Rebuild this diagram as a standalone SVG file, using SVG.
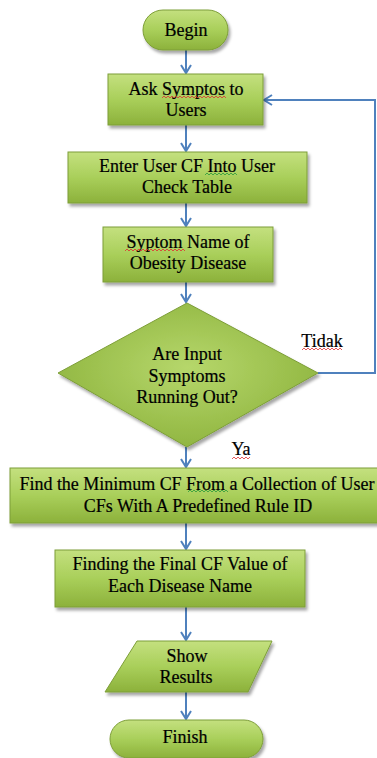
<svg xmlns="http://www.w3.org/2000/svg" width="377" height="758" viewBox="0 0 377 758">
<defs>
<linearGradient id="g" x1="0" y1="0" x2="0" y2="1">
<stop offset="0" stop-color="#c4e07f"/>
<stop offset="0.5" stop-color="#a9cf5a"/>
<stop offset="1" stop-color="#8cb13b"/>
</linearGradient>
<radialGradient id="gd" cx="0.5" cy="0.45" r="0.6">
<stop offset="0" stop-color="#b6d76b"/>
<stop offset="1" stop-color="#8db33d"/>
</radialGradient>
<filter id="sh" x="-10%" y="-10%" width="130%" height="140%">
<feDropShadow dx="2" dy="3" stdDeviation="1.5" flood-color="#000" flood-opacity="0.35"/>
</filter>
<marker id="arr" viewBox="0 0 12 12" refX="10" refY="6" markerWidth="12" markerHeight="12" markerUnits="userSpaceOnUse" orient="auto">
<path d="M2,1 L10,6 L2,11" fill="none" stroke="#4f81bd" stroke-width="2"/>
</marker>
</defs>
<style>
.n{fill:url(#g);stroke:#7d9e38;stroke-width:1;filter:url(#sh)}
.d{fill:url(#gd);stroke:#7d9e38;stroke-width:1;filter:url(#sh)}
.t{font-family:"Liberation Serif","Times New Roman",serif;font-size:18px;fill:#000;stroke:#000;stroke-width:0.2;text-anchor:middle}
.c{fill:none;stroke:#4f81bd;stroke-width:2;marker-end:url(#arr)}
.w{fill:none;stroke:#e03030;stroke-width:0.8}
</style>
<rect width="377" height="758" fill="#fff"/>
<g id="connectors">
<line class="c" x1="186" y1="50" x2="186" y2="73"/>
<line class="c" x1="186" y1="125" x2="186" y2="151"/>
<line class="c" x1="186" y1="203" x2="186" y2="226"/>
<line class="c" x1="186" y1="282" x2="186" y2="302"/>
<line class="c" x1="186" y1="447" x2="186" y2="467"/>
<line class="c" x1="186" y1="523" x2="186" y2="549"/>
<line class="c" x1="186" y1="607" x2="186" y2="640"/>
<line class="c" x1="186" y1="692" x2="186" y2="719"/>
<polyline class="c" points="318,373 375,373 375,100 264,100"/>
<text class="t" x="322" y="347">Tidak</text>
<text class="t" x="241" y="455">Ya</text>
</g>
<g id="begin">
<rect class="n" x="143" y="10" width="85" height="40" rx="20" ry="20"/>
<text class="t" x="186" y="36">Begin</text>
</g>
<g id="ask">
<rect class="n" x="108" y="74" width="155" height="51"/>
<text class="t" x="186" y="95">Ask Symptos to</text>
<text class="t" x="186" y="116">Users</text>
</g>
<g id="enter">
<rect class="n" x="68" y="152" width="239" height="51"/>
<text class="t" x="187" y="172">Enter User CF Into User</text>
<text class="t" x="187" y="193">Check Table</text>
</g>
<g id="syptom">
<rect class="n" x="103" y="227" width="170" height="55"/>
<text class="t" x="188" y="248">Syptom Name of</text>
<text class="t" x="188" y="269">Obesity Disease</text>
</g>
<g id="decision">
<polygon class="d" points="187,303 318,373 187,447 58,373"/>
<text class="t" x="187" y="360">Are Input</text>
<text class="t" x="187" y="382">Symptoms</text>
<text class="t" x="187" y="403">Running Out?</text>
</g>
<g id="findmin">
<rect class="n" x="10" y="468" width="380" height="55"/>
<text class="t" x="197" y="490" textLength="355" lengthAdjust="spacing">Find the Minimum CF From a Collection of User</text>
<text class="t" x="198" y="512">CFs With A Predefined Rule ID</text>
</g>
<g id="finalcf">
<rect class="n" x="55" y="550" width="250" height="57"/>
<text class="t" x="180" y="570">Finding the Final CF Value of</text>
<text class="t" x="180" y="592">Each Disease Name</text>
</g>
<g id="show">
<polygon class="n" points="137,641 272,641 248,692 105,692"/>
<text class="t" x="187" y="662">Show</text>
<text class="t" x="186" y="683">Results</text>
</g>
<g id="finish">
<rect class="n" x="110" y="720" width="153" height="38" rx="19" ry="19"/>
<text class="t" x="185" y="743">Finish</text>
</g>
<g id="spellcheck">
<polyline class="w" points="162,98 164,96 166,98 168,96 170,98 172,96 174,98 176,96 178,98 180,96 182,98 184,96 186,98 188,96 190,98 192,96 194,98 196,96 198,98 200,96 202,98 204,96 206,98 208,96 210,98 212,96 214,98 216,96 218,98 220,96 222,98 224,96 226,98"/>
<polyline class="w" points="205,175 207,173 209,175 211,173 213,175 215,173 217,175 219,173 221,175 223,173 225,175 227,173 229,175 231,173 233,175 235,173 237,175" style="stroke:#2a9a3a"/>
<polyline class="w" points="125,251 127,249 129,251 131,249 133,251 135,249 137,251 139,249 141,251 143,249 145,251 147,249 149,251 151,249 153,251 155,249 157,251 159,249 161,251 163,249 165,251 167,249 169,251 171,249 173,251 175,249 177,251 179,249 181,251 183,249 185,251"/>
<polyline class="w" points="188,492 190,490 192,492 194,490 196,492 198,490 200,492 202,490 204,492 206,490 208,492 210,490 212,492 214,490 216,492 218,490 220,492 222,490 224,492 226,490 228,492" style="stroke:#2a9a3a"/>
<polyline class="w" points="302,350 304,348 306,350 308,348 310,350 312,348 314,350 316,348 318,350 320,348 322,350 324,348 326,350 328,348 330,350 332,348 334,350 336,348 338,350 340,348 342,350"/>
<polyline class="w" points="232,459 234,457 236,459 238,457 240,459 242,457 244,459 246,457 248,459 250,457"/>
</g>
</svg>
